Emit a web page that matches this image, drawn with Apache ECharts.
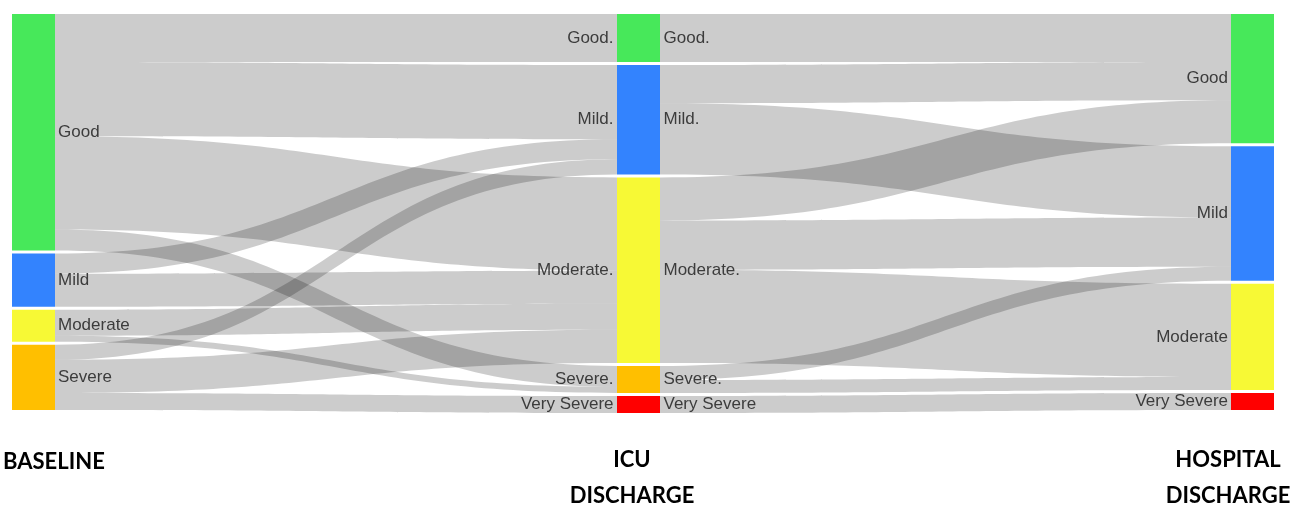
<!DOCTYPE html>
<html><head><meta charset="utf-8">
<script src="https://cdn.jsdelivr.net/npm/echarts@6/dist/echarts.min.js"></script>
<style>html,body{margin:0;padding:0;background:#fff}#c{width:1300px;height:505px}</style>
</head><body><div id="c"></div>
<script>
// ---- data ----
const stageTitles = [['BASELINE'], ['ICU', 'DISCHARGE'], ['HOSPITAL', 'DISCHARGE']];
const baselineLabels = ['Good', 'Mild', 'Moderate', 'Severe'];
const icuLabels = ['Good.', 'Mild.', 'Moderate.', 'Severe.', 'Very Severe'];
const hospitalLabels = ['Good', 'Mild', 'Moderate', 'Very Severe'];
const baselineColors = ['#47e85a', '#3383fe', '#f7f935', '#ffbf00'];
const icuColors = ['#47e85a', '#3383fe', '#f7f935', '#ffbf00', '#ff0000'];
const hospitalColors = ['#47e85a', '#3383fe', '#f7f935', '#ff0000'];
// [from baseline, to ICU, value]
const baselineToIcu = [
  ['Good', 'Good.', 48], ['Good', 'Mild.', 74], ['Good', 'Moderate.', 93], ['Good', 'Severe.', 21],
  ['Mild', 'Mild.', 20], ['Mild', 'Moderate.', 33],
  ['Moderate', 'Moderate.', 26], ['Moderate', 'Severe.', 6],
  ['Severe', 'Mild.', 15], ['Severe', 'Moderate.', 33], ['Severe', 'Very Severe', 17]
];
// [from ICU, to hospital, value]
const icuToHospital = [
  ['Good.', 'Good', 48],
  ['Mild.', 'Good', 38], ['Mild.', 'Mild', 71],
  ['Moderate.', 'Good', 43], ['Moderate.', 'Mild', 49], ['Moderate.', 'Moderate', 93],
  ['Severe.', 'Mild', 14], ['Severe.', 'Moderate', 13],
  ['Very Severe', 'Very Severe', 17]
];

// ---- build ----
const LABEL_COLOR = '#3c3c3c';
const FONT = '"Liberation Sans", Arial, sans-serif';
const FS = 17;
const SERIES_LEFT = 12, SERIES_RIGHT = 26, CHART_W = 1300;
// middle column sits slightly left of centre in the reference
const icuLocalX = (617 - SERIES_LEFT) / (CHART_W - SERIES_LEFT - SERIES_RIGHT);
const nodes = [];
baselineLabels.forEach((l, i) => nodes.push({
  name: 'B|' + l, itemStyle: { color: baselineColors[i] },
  label: { position: 'right', distance: 3, formatter: l }
}));
icuLabels.forEach((l, i) => nodes.push({
  name: 'I|' + l, itemStyle: { color: icuColors[i] },
  localX: icuLocalX,
  label: {
    position: 'inside',
    formatter: '{t|' + l + '}{sp| }{t|' + l + '}',
    rich: { t: { fontSize: FS, color: LABEL_COLOR, fontFamily: FONT }, sp: { width: 50 } }
  }
}));
hospitalLabels.forEach((l, i) => nodes.push({
  name: 'H|' + l, itemStyle: { color: hospitalColors[i] },
  label: { position: 'left', distance: 3, formatter: l }
}));
const links = [];
baselineToIcu.forEach(([s, t, v]) => links.push({ source: 'B|' + s, target: 'I|' + t, value: v }));
icuToHospital.forEach(([s, t, v]) => links.push({ source: 'I|' + s, target: 'H|' + t, value: v }));

const titleX = [3, 632, 1228];
const graphics = [];
stageTitles.forEach((lines, i) => {
  lines.forEach((txt, j) => graphics.push({
    type: 'text', x: titleX[i], y: (i === 0 ? 462 : 460) + j * 36,
    style: {
      text: txt, font: 'bold 22px Lato, "Open Sans", sans-serif', fill: '#000',
      textAlign: i === 0 ? 'left' : 'center', textVerticalAlign: 'middle'
    }
  }));
});

const chart = echarts.init(document.getElementById('c'));
chart.setOption({
  backgroundColor: '#fff',
  animation: false,
  graphic: graphics,
  series: [{
    type: 'sankey',
    left: SERIES_LEFT, right: SERIES_RIGHT, top: 14, bottom: 92,
    nodeWidth: 43, nodeGap: 3,
    layoutIterations: 0,
    draggable: false,
    emphasis: { disabled: true },
    label: { fontSize: FS, color: LABEL_COLOR, fontFamily: FONT },
    lineStyle: { color: '#000', opacity: 0.2, curveness: 0.5 },
    itemStyle: { borderWidth: 0 },
    data: nodes,
    links: links
  }]
});
</script></body></html>
